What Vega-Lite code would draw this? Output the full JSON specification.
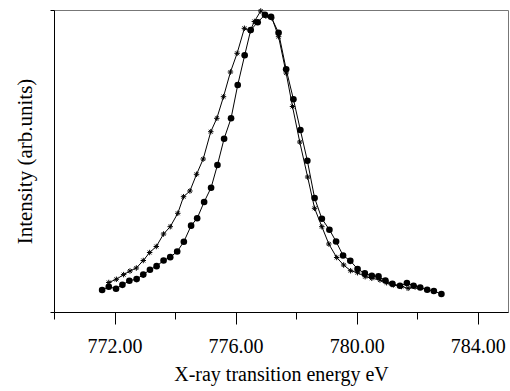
{
  "$schema": "https://vega.github.io/schema/vega-lite/v6.json",
  "width": 454,
  "height": 302,
  "autosize": "none",
  "padding": {"left": 54, "top": 10, "right": 2, "bottom": 79},
  "background": "white",
  "config": {
    "view": {"stroke": "#777", "strokeWidth": 1},
    "font": "Liberation Serif",
    "axis": {"grid": false, "domainColor": "black", "tickColor": "black", "labelColor": "black", "titleColor": "black", "titleFontWeight": "normal", "labelFont": "Liberation Serif", "titleFont": "Liberation Serif"}
  },
  "data": {
    "values": [
      {"series": "circle", "x": 771.59, "y": 7.28},
      {"series": "circle", "x": 771.81, "y": 8.38},
      {"series": "circle", "x": 772.05, "y": 7.68},
      {"series": "circle", "x": 772.26, "y": 9.0},
      {"series": "circle", "x": 772.49, "y": 10.33},
      {"series": "circle", "x": 772.73, "y": 10.9},
      {"series": "circle", "x": 772.95, "y": 12.38},
      {"series": "circle", "x": 773.17, "y": 14.0},
      {"series": "circle", "x": 773.39, "y": 15.17},
      {"series": "circle", "x": 773.62, "y": 17.05},
      {"series": "circle", "x": 773.84, "y": 18.15},
      {"series": "circle", "x": 774.07, "y": 20.03},
      {"series": "circle", "x": 774.29, "y": 23.28},
      {"series": "circle", "x": 774.53, "y": 28.58},
      {"series": "circle", "x": 774.73, "y": 31.03},
      {"series": "circle", "x": 774.96, "y": 36.42},
      {"series": "circle", "x": 775.19, "y": 41.16},
      {"series": "circle", "x": 775.40, "y": 48.68},
      {"series": "circle", "x": 775.62, "y": 57.38},
      {"series": "circle", "x": 775.85, "y": 64.14},
      {"series": "circle", "x": 776.07, "y": 75.17},
      {"series": "circle", "x": 776.30, "y": 85.0},
      {"series": "circle", "x": 776.50, "y": 93.38},
      {"series": "circle", "x": 776.73, "y": 95.93},
      {"series": "circle", "x": 776.97, "y": 98.44},
      {"series": "circle", "x": 777.17, "y": 97.78},
      {"series": "circle", "x": 777.42, "y": 92.45},
      {"series": "circle", "x": 777.67, "y": 80.36},
      {"series": "circle", "x": 777.91, "y": 70.46},
      {"series": "circle", "x": 778.14, "y": 60.26},
      {"series": "circle", "x": 778.37, "y": 50.1},
      {"series": "circle", "x": 778.61, "y": 37.75},
      {"series": "circle", "x": 778.85, "y": 30.89},
      {"series": "circle", "x": 779.10, "y": 27.25},
      {"series": "circle", "x": 779.32, "y": 23.34},
      {"series": "circle", "x": 779.55, "y": 18.71},
      {"series": "circle", "x": 779.79, "y": 16.95},
      {"series": "circle", "x": 780.03, "y": 14.24},
      {"series": "circle", "x": 780.27, "y": 12.78},
      {"series": "circle", "x": 780.50, "y": 11.99},
      {"series": "circle", "x": 780.72, "y": 11.82},
      {"series": "circle", "x": 780.95, "y": 10.43},
      {"series": "circle", "x": 781.18, "y": 9.34},
      {"series": "circle", "x": 781.43, "y": 8.68},
      {"series": "circle", "x": 781.66, "y": 9.6},
      {"series": "circle", "x": 781.88, "y": 8.71},
      {"series": "circle", "x": 782.10, "y": 8.11},
      {"series": "circle", "x": 782.33, "y": 7.35},
      {"series": "circle", "x": 782.55, "y": 6.95},
      {"series": "circle", "x": 782.80, "y": 5.96},
      {"series": "star", "x": 771.81, "y": 9.77},
      {"series": "star", "x": 772.06, "y": 10.83},
      {"series": "star", "x": 772.30, "y": 12.38},
      {"series": "star", "x": 772.51, "y": 13.58},
      {"series": "star", "x": 772.72, "y": 14.57},
      {"series": "star", "x": 772.95, "y": 17.05},
      {"series": "star", "x": 773.16, "y": 19.7},
      {"series": "star", "x": 773.38, "y": 21.69},
      {"series": "star", "x": 773.62, "y": 25.83},
      {"series": "star", "x": 773.84, "y": 28.25},
      {"series": "star", "x": 774.09, "y": 32.68},
      {"series": "star", "x": 774.28, "y": 38.18},
      {"series": "star", "x": 774.49, "y": 40.07},
      {"series": "star", "x": 774.71, "y": 45.6},
      {"series": "star", "x": 774.93, "y": 50.66},
      {"series": "star", "x": 775.18, "y": 59.7},
      {"series": "star", "x": 775.38, "y": 64.14},
      {"series": "star", "x": 775.60, "y": 71.29},
      {"series": "star", "x": 775.83, "y": 79.47},
      {"series": "star", "x": 776.05, "y": 85.66},
      {"series": "star", "x": 776.29, "y": 93.94},
      {"series": "star", "x": 776.48, "y": 93.05},
      {"series": "star", "x": 776.62, "y": 96.2},
      {"series": "star", "x": 776.83, "y": 99.67},
      {"series": "star", "x": 777.00, "y": 98.0},
      {"series": "star", "x": 777.20, "y": 97.35},
      {"series": "star", "x": 777.42, "y": 91.16},
      {"series": "star", "x": 777.67, "y": 79.14},
      {"series": "star", "x": 777.88, "y": 68.05},
      {"series": "star", "x": 778.12, "y": 56.29},
      {"series": "star", "x": 778.38, "y": 44.7},
      {"series": "star", "x": 778.61, "y": 34.34},
      {"series": "star", "x": 778.85, "y": 28.25},
      {"series": "star", "x": 779.08, "y": 22.52},
      {"series": "star", "x": 779.34, "y": 18.05},
      {"series": "star", "x": 779.57, "y": 15.56},
      {"series": "star", "x": 779.80, "y": 13.67},
      {"series": "star", "x": 780.03, "y": 13.01},
      {"series": "star", "x": 780.28, "y": 11.69},
      {"series": "star", "x": 780.50, "y": 11.16},
      {"series": "star", "x": 780.77, "y": 10.6},
      {"series": "star", "x": 780.99, "y": 9.7},
      {"series": "star", "x": 781.21, "y": 8.94},
      {"series": "star", "x": 781.48, "y": 8.44},
      {"series": "star", "x": 781.70, "y": 7.85},
      {"series": "star", "x": 781.93, "y": 8.28}
    ]
  },
  "encoding": {
    "x": {
      "field": "x", "type": "quantitative",
      "scale": {"domain": [770, 785], "nice": false, "zero": false},
      "axis": {
        "title": "X-ray transition energy eV",
        "titleFontSize": 20,
        "titlePadding": 8,
        "values": [770, 772, 774, 776, 778, 780, 782, 784],
        "labelExpr": "datum.value % 4 == 0 ? format(datum.value, '.2f') : ''",
        "labelFontSize": 20,
        "labelPadding": 12,
        "tickSize": {"condition": {"test": "datum.value % 4 == 0", "value": 12}, "value": 7},
        "labelFlush": false,
        "labelOverlap": false
      }
    },
    "y": {
      "field": "y", "type": "quantitative",
      "scale": {"domain": [0, 100], "nice": false},
      "axis": {
        "title": "Intensity (arb.units)",
        "titleFontSize": 21,
        "titlePadding": 14,
        "values": [0, 100],
        "labels": false,
        "tickSize": 4
      }
    }
  },
  "layer": [
    {
      "mark": {"type": "line", "color": "black", "strokeWidth": 1},
      "encoding": {"detail": {"field": "series"}}
    },
    {
      "transform": [{"filter": "datum.series == 'circle'"}],
      "mark": {"type": "point", "shape": "circle", "filled": true, "color": "black", "size": 44, "opacity": 1}
    },
    {
      "transform": [{"filter": "datum.series == 'star'"}],
      "mark": {"type": "point", "shape": "M -1 0 L 1 0 M 0 -1 L 0 1 M -0.7 -0.7 L 0.7 0.7 M -0.7 0.7 L 0.7 -0.7", "filled": false, "stroke": "black", "strokeWidth": 1, "size": 30, "opacity": 1}
    }
  ]
}
